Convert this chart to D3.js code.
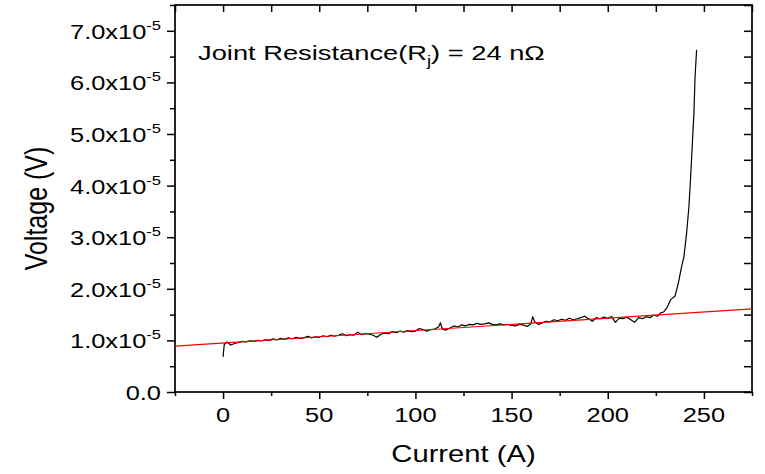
<!DOCTYPE html>
<html>
<head>
<meta charset="utf-8">
<script src="https://cdn.jsdelivr.net/npm/d3@7"></script>
<style>
  html, body { margin: 0; padding: 0; background: #fff; }
  svg { display: block; font-family: 'Liberation Sans', Arial, sans-serif; }
</style>
</head>
<body>
<svg id="chart" width="765" height="474"></svg>
<script>
// Measured current (A) and joint voltage (in units of 1e-5 V)
const current = [
  0, 0.6, 2, 4, 6, 8, 10, 12, 14, 16,
  18, 20, 22, 24, 26, 28, 30, 32, 34, 36,
  38, 40, 42, 44, 46, 48, 50, 52, 54, 56,
  58, 60, 62, 64, 66, 68, 70, 72, 74, 76,
  78, 80, 82, 84, 86, 88, 90, 92, 94, 96,
  98, 100, 102, 104, 106, 108, 110, 112, 113, 114,
  116, 118, 120, 122, 124, 126, 128, 130, 132, 134,
  136, 138, 140, 142, 144, 146, 148, 150, 152, 154,
  156, 158, 160, 161, 162, 164, 166, 168, 170, 172,
  174, 176, 178, 180, 182, 184, 186, 188, 190, 192,
  194, 196, 198, 200, 202, 204, 206, 208, 210, 212,
  214, 216, 218, 220, 222, 224, 226, 227.3, 229, 230.7,
  232.7, 235, 236.7, 238.4, 239.6, 241, 242.2, 243.1, 244, 244.8,
  245.4, 246.2
];
const voltageE5 = [
  0.68, 0.92, 0.97, 0.91, 0.94, 0.96, 0.98, 0.97, 0.99, 0.98,
  1.00, 0.99, 1.01, 1.00, 1.03, 1.01, 1.04, 1.02, 1.05, 1.03,
  1.06, 1.04, 1.05, 1.08, 1.05, 1.07, 1.06, 1.09, 1.07, 1.10,
  1.08, 1.10, 1.13, 1.09, 1.11, 1.10, 1.16, 1.11, 1.13, 1.12,
  1.10, 1.06, 1.12, 1.14, 1.13, 1.17, 1.15, 1.18, 1.16, 1.19,
  1.17, 1.18, 1.23, 1.21, 1.18, 1.21, 1.22, 1.26, 1.34, 1.22,
  1.20, 1.24, 1.28, 1.26, 1.30, 1.28, 1.31, 1.30, 1.33, 1.31,
  1.32, 1.34, 1.31, 1.30, 1.32, 1.30, 1.31, 1.29, 1.28, 1.31,
  1.30, 1.27, 1.32, 1.46, 1.36, 1.31, 1.34, 1.37, 1.36, 1.40,
  1.38, 1.41, 1.39, 1.43, 1.40, 1.42, 1.44, 1.47, 1.42, 1.37,
  1.44, 1.42, 1.45, 1.43, 1.46, 1.35, 1.43, 1.42, 1.45, 1.40,
  1.35, 1.44, 1.42, 1.46, 1.44, 1.49, 1.47, 1.53, 1.55, 1.63,
  1.79, 1.86, 2.11, 2.43, 2.62, 3.08, 3.59, 4.17, 4.82, 5.40,
  6.11, 6.63
];

// Linear fit (slope 24 nΩ) across the whole current axis
const fitCurrent = [-25, 275];
const fitVoltageE5 = [0.89, 1.61];

// Axis ticks and labels
const xDomain = [-25, 275];
const yDomain = [0, 7.5];
const xTicks = [0, 50, 100, 150, 200, 250];
const xTickLabels = ["0", "50", "100", "150", "200", "250"];
const xMinorTicks = [-25, 25, 75, 125, 175, 225, 275];
const yTicks = [0, 1, 2, 3, 4, 5, 6, 7];
const yTickMantissa = ["0.0", "1.0x10", "2.0x10", "3.0x10", "4.0x10", "5.0x10", "6.0x10", "7.0x10"];
const yTickExponent = ["", "-5", "-5", "-5", "-5", "-5", "-5", "-5"];
const yMinorTicks = [0.5, 1.5, 2.5, 3.5, 4.5, 5.5, 6.5, 7.5];

const xTitle = "Current (A)";
const yTitle = "Voltage (V)";

// ---------------------------------------------------------------
const svg = d3.select("#chart");
const plot = { left: 175, right: 752, top: 5, bottom: 392 };
const SX = 1.27; // horizontal stretch applied to the lettering

const x = d3.scaleLinear().domain(xDomain).range([plot.left, plot.right]);
const y = d3.scaleLinear().domain(yDomain).range([plot.bottom, plot.top]);

svg.append("rect").attr("width", 765).attr("height", 474).attr("fill", "#fff");

svg.append("defs").append("clipPath").attr("id", "clip")
  .append("rect")
  .attr("x", plot.left).attr("y", plot.top)
  .attr("width", plot.right - plot.left).attr("height", plot.bottom - plot.top);

function styleAxis(g) {
  g.select(".domain").remove();
  g.selectAll(".tick line").attr("stroke", "#000").attr("stroke-width", 1.5);
  g.selectAll(".tick text").remove();
}

// bottom axis (outward ticks)
svg.append("g").attr("transform", `translate(0,${plot.bottom})`)
  .call(d3.axisBottom(x).tickValues(xTicks).tickSize(7).tickSizeOuter(0).tickFormat(""))
  .call(styleAxis);
svg.append("g").attr("transform", `translate(0,${plot.bottom})`)
  .call(d3.axisBottom(x).tickValues(xMinorTicks).tickSize(4).tickSizeOuter(0).tickFormat(""))
  .call(styleAxis);
// top axis (inward ticks)
svg.append("g").attr("transform", `translate(0,${plot.top})`)
  .call(d3.axisBottom(x).tickValues(xTicks).tickSize(7).tickSizeOuter(0).tickFormat(""))
  .call(styleAxis);
svg.append("g").attr("transform", `translate(0,${plot.top})`)
  .call(d3.axisBottom(x).tickValues(xMinorTicks).tickSize(7).tickSizeOuter(0).tickFormat(""))
  .call(styleAxis);
// left axis (outward ticks)
svg.append("g").attr("transform", `translate(${plot.left},0)`)
  .call(d3.axisLeft(y).tickValues(yTicks).tickSize(8).tickSizeOuter(0).tickFormat(""))
  .call(styleAxis);
svg.append("g").attr("transform", `translate(${plot.left},0)`)
  .call(d3.axisLeft(y).tickValues(yMinorTicks).tickSize(5).tickSizeOuter(0).tickFormat(""))
  .call(styleAxis);
// right axis (inward ticks)
svg.append("g").attr("transform", `translate(${plot.right},0)`)
  .call(d3.axisLeft(y).tickValues(yTicks).tickSize(8).tickSizeOuter(0).tickFormat(""))
  .call(styleAxis);
svg.append("g").attr("transform", `translate(${plot.right},0)`)
  .call(d3.axisLeft(y).tickValues(yMinorTicks).tickSize(8).tickSizeOuter(0).tickFormat(""))
  .call(styleAxis);

// frame
svg.append("rect")
  .attr("x", plot.left).attr("y", plot.top)
  .attr("width", plot.right - plot.left).attr("height", plot.bottom - plot.top)
  .attr("fill", "none").attr("stroke", "#000").attr("stroke-width", 1.7);

// x tick labels
xTicks.forEach((v, i) => {
  svg.append("text")
    .attr("transform", `translate(${x(v)},${plot.bottom + 30}) scale(${SX},1)`)
    .attr("text-anchor", "middle")
    .attr("font-size", 20)
    .attr("fill", "#000")
    .text(xTickLabels[i]);
});

// y tick labels with superscript exponent
yTicks.forEach((v, i) => {
  const t = svg.append("text")
    .attr("transform", `translate(${plot.left - 14},${y(v) + 8}) scale(${SX},1)`)
    .attr("text-anchor", "end")
    .attr("font-size", 20)
    .attr("fill", "#000");
  t.append("tspan").text(yTickMantissa[i]);
  if (yTickExponent[i]) {
    t.append("tspan").attr("font-size", 13).attr("dy", -9).text(yTickExponent[i]);
  }
});

// axis titles
svg.append("text")
  .attr("transform", `translate(${(plot.left + plot.right) / 2},${plot.bottom + 70}) scale(${SX},1)`)
  .attr("text-anchor", "middle")
  .attr("font-size", 23)
  .attr("fill", "#000")
  .text(xTitle);

svg.append("text")
  .attr("transform", `translate(47,${(plot.top + plot.bottom) / 2 + 10}) scale(${SX},1) rotate(-90)`)
  .attr("text-anchor", "middle")
  .attr("font-size", 25)
  .attr("fill", "#000")
  .text(yTitle);

// annotation
const ann = svg.append("text")
  .attr("transform", `translate(198,60) scale(1.3,1)`)
  .attr("font-size", 21)
  .attr("fill", "#000");
ann.append("tspan").text("Joint Resistance(R");
ann.append("tspan").attr("font-size", 14).attr("dy", 6).text("j");
ann.append("tspan").attr("dy", -6).text(") = 24 n\u03A9");

// data
const clipped = svg.append("g").attr("clip-path", "url(#clip)");
const line = d3.line().x(d => x(d[0])).y(d => y(d[1]));

clipped.append("path")
  .datum(d3.zip(current, voltageE5))
  .attr("d", line)
  .attr("fill", "none")
  .attr("stroke", "#000")
  .attr("stroke-width", 1.2)
  .attr("stroke-linejoin", "round");

clipped.append("path")
  .datum(d3.zip(fitCurrent, fitVoltageE5))
  .attr("d", line)
  .attr("fill", "none")
  .attr("stroke", "#ff0000")
  .attr("stroke-width", 1.2);
</script>
</body>
</html>
